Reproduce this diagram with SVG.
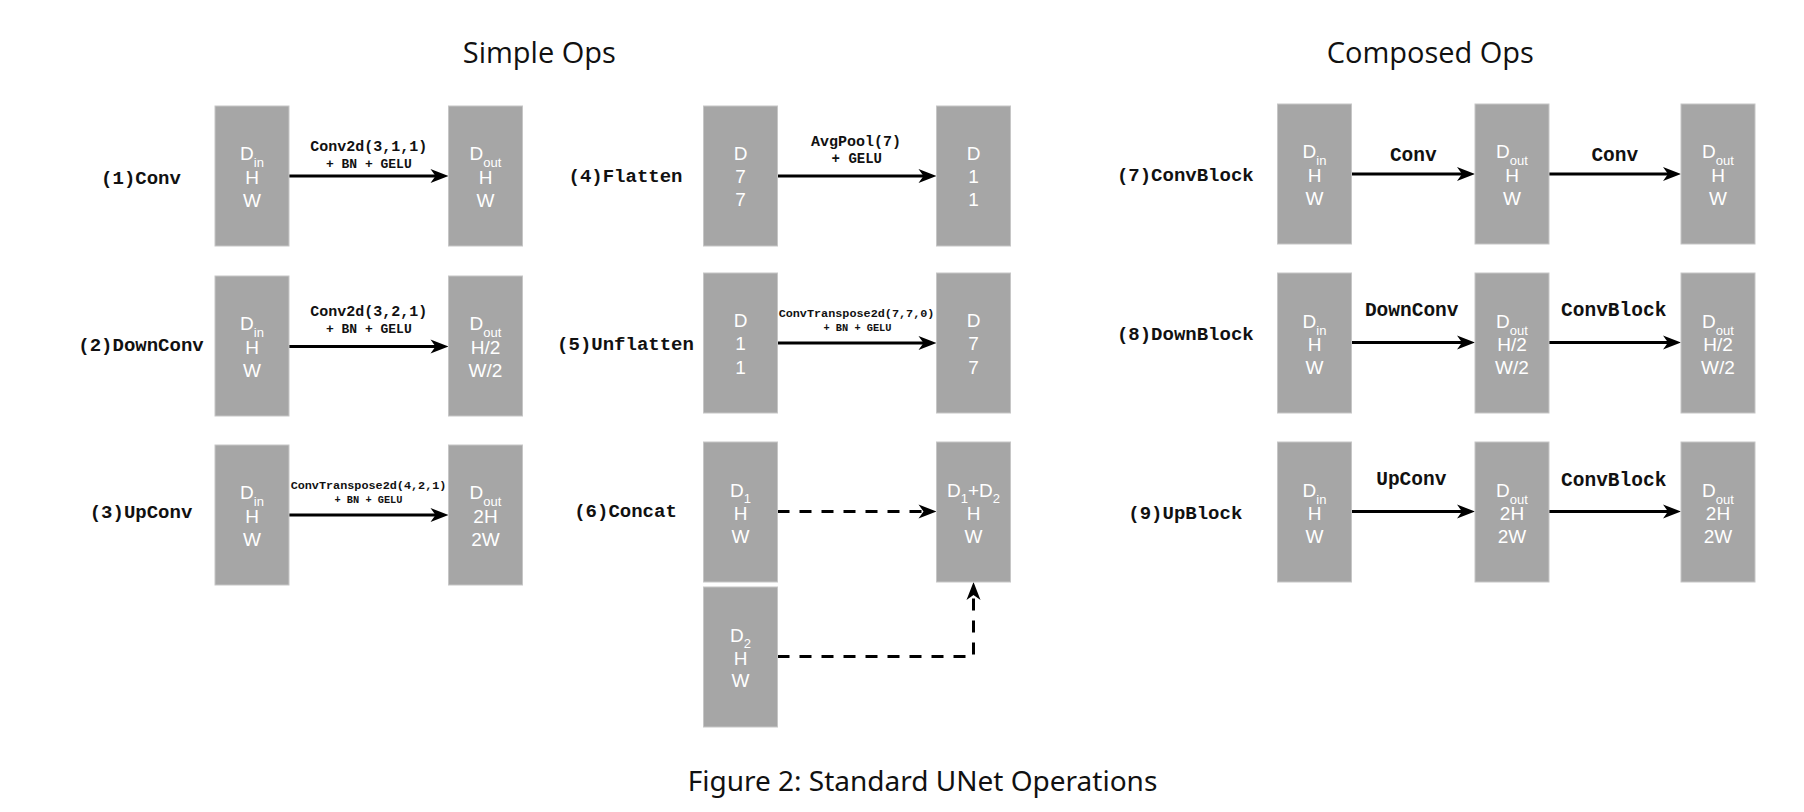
<svg xmlns="http://www.w3.org/2000/svg" width="1804" height="812" viewBox="0 0 1804 812">
<style>
.bg{fill:#ffffff}
.box{fill:#a6a6a6;stroke:#c6c6c6;stroke-width:1}
.bt{font-family:"Liberation Sans",Arial,Helvetica,sans-serif;font-size:19px;fill:#ffffff;text-anchor:middle}
.sub{font-size:13px}
.title{font-family:"Open Sans","Noto Sans",sans-serif;font-size:29px;fill:#111111;text-anchor:middle}
.cap{font-family:"Noto Sans","Liberation Sans",sans-serif;font-size:28px;fill:#111111;text-anchor:middle}
.lbl{font-family:"Liberation Mono","Courier New",monospace;font-weight:bold;font-size:19px;fill:#111111;text-anchor:middle}
.al{font-family:"Liberation Mono","Courier New",monospace;font-weight:bold;fill:#111111;text-anchor:middle}
.ln{fill:none;stroke:#000000;stroke-width:3}
.dash{stroke-dasharray:12 10}
</style>
<defs>
<marker id="ah" markerUnits="userSpaceOnUse" markerWidth="20" markerHeight="16" refX="8" refY="7" orient="auto" overflow="visible">
<path d="M0,0 L18,7 L0,14 L5,7 Z" fill="#000000"/>
</marker>
</defs>
<rect class="bg" x="0" y="0" width="1804" height="812"/>

<g id="titles">
<text class="title" x="539.3" y="62.7">Simple Ops</text>
<text class="title" x="1430.3" y="63.3">Composed Ops</text>
</g>

<g id="row-labels">
<text class="lbl" x="141" y="183.5">(1)Conv</text>
<text class="lbl" x="141" y="350.5">(2)DownConv</text>
<text class="lbl" x="141" y="518">(3)UpConv</text>
<text class="lbl" x="625.5" y="181.7">(4)Flatten</text>
<text class="lbl" x="625.5" y="350">(5)Unflatten</text>
<text class="lbl" x="625.5" y="517.3">(6)Concat</text>
<text class="lbl" x="1185.3" y="180.7">(7)ConvBlock</text>
<text class="lbl" x="1185.3" y="340">(8)DownBlock</text>
<text class="lbl" x="1185.3" y="519.3">(9)UpBlock</text>
</g>

<g id="connectors">
<line class="ln" x1="289" y1="176" x2="438.5" y2="176" marker-end="url(#ah)"/>
<line class="ln" x1="289" y1="346.5" x2="438.5" y2="346.5" marker-end="url(#ah)"/>
<line class="ln" x1="289" y1="515" x2="438.5" y2="515" marker-end="url(#ah)"/>
<line class="ln" x1="777.5" y1="176" x2="926.5" y2="176" marker-end="url(#ah)"/>
<line class="ln" x1="777.5" y1="343" x2="926.5" y2="343" marker-end="url(#ah)"/>
<line class="ln dash" x1="777.5" y1="511.5" x2="926.5" y2="511.5" marker-end="url(#ah)"/>
<path class="ln dash" d="M777.5,656.5 H973.5 V592" marker-end="url(#ah)"/>
<line class="ln" x1="1351.5" y1="174" x2="1465" y2="174" marker-end="url(#ah)"/>
<line class="ln" x1="1549" y1="174" x2="1671" y2="174" marker-end="url(#ah)"/>
<line class="ln" x1="1351.5" y1="342.5" x2="1465" y2="342.5" marker-end="url(#ah)"/>
<line class="ln" x1="1549" y1="342.5" x2="1671" y2="342.5" marker-end="url(#ah)"/>
<line class="ln" x1="1351.5" y1="511.5" x2="1465" y2="511.5" marker-end="url(#ah)"/>
<line class="ln" x1="1549" y1="511.5" x2="1671" y2="511.5" marker-end="url(#ah)"/>
</g>

<g id="connector-labels">
<text class="al" x="368.8" y="150.7" font-size="15">Conv2d(3,1,1)</text>
<text class="al" x="368.8" y="168.3" font-size="13">+ BN + GELU</text>
<text class="al" x="368.8" y="315.7" font-size="15">Conv2d(3,2,1)</text>
<text class="al" x="368.8" y="333.3" font-size="13">+ BN + GELU</text>
<text class="al" x="368.5" y="489.3" font-size="11.8">ConvTranspose2d(4,2,1)</text>
<text class="al" x="368.5" y="502.7" font-size="10.3">+ BN + GELU</text>
<text class="al" x="856" y="146" font-size="15">AvgPool(7)</text>
<text class="al" x="856.8" y="163" font-size="14">+ GELU</text>
<text class="al" x="856.5" y="316.7" font-size="11.8">ConvTranspose2d(7,7,0)</text>
<text class="al" x="857.5" y="330.7" font-size="10.3">+ BN + GELU</text>
<text class="al" x="1413.3" y="161" font-size="19.5">Conv</text>
<text class="al" x="1614.8" y="161" font-size="19.5">Conv</text>
<text class="al" x="1411.7" y="315.7" font-size="19.5">DownConv</text>
<text class="al" x="1613.7" y="315.7" font-size="19.5">ConvBlock</text>
<text class="al" x="1411.3" y="485" font-size="19.5">UpConv</text>
<text class="al" x="1613.7" y="486" font-size="19.5">ConvBlock</text>
</g>

<!-- (1) Conv -->
<g id="conv-in">
<rect class="box" x="215" y="106" width="74" height="140"/>
<text class="bt" x="252" y="160"><tspan>D</tspan><tspan class="sub" dy="7">in</tspan></text>
<text class="bt" x="252" y="183.5">H</text>
<text class="bt" x="252" y="206.5">W</text>
</g>
<g id="conv-out">
<rect class="box" x="448.5" y="106" width="74" height="140"/>
<text class="bt" x="485.5" y="160"><tspan>D</tspan><tspan class="sub" dy="7">out</tspan></text>
<text class="bt" x="485.5" y="183.5">H</text>
<text class="bt" x="485.5" y="206.5">W</text>
</g>

<!-- (2) DownConv -->
<g id="downconv-in">
<rect class="box" x="215" y="276" width="74" height="140"/>
<text class="bt" x="252" y="330"><tspan>D</tspan><tspan class="sub" dy="7">in</tspan></text>
<text class="bt" x="252" y="353.5">H</text>
<text class="bt" x="252" y="376.5">W</text>
</g>
<g id="downconv-out">
<rect class="box" x="448.5" y="276" width="74" height="140"/>
<text class="bt" x="485.5" y="330"><tspan>D</tspan><tspan class="sub" dy="7">out</tspan></text>
<text class="bt" x="485.5" y="353.5">H/2</text>
<text class="bt" x="485.5" y="376.5">W/2</text>
</g>

<!-- (3) UpConv -->
<g id="upconv-in">
<rect class="box" x="215" y="445" width="74" height="140"/>
<text class="bt" x="252" y="499"><tspan>D</tspan><tspan class="sub" dy="7">in</tspan></text>
<text class="bt" x="252" y="522.5">H</text>
<text class="bt" x="252" y="545.5">W</text>
</g>
<g id="upconv-out">
<rect class="box" x="448.5" y="445" width="74" height="140"/>
<text class="bt" x="485.5" y="499"><tspan>D</tspan><tspan class="sub" dy="7">out</tspan></text>
<text class="bt" x="485.5" y="522.5">2H</text>
<text class="bt" x="485.5" y="545.5">2W</text>
</g>

<!-- (4) Flatten -->
<g id="flatten-in">
<rect class="box" x="703.5" y="106" width="74" height="140"/>
<text class="bt" x="740.5" y="160">D</text>
<text class="bt" x="740.5" y="183">7</text>
<text class="bt" x="740.5" y="206">7</text>
</g>
<g id="flatten-out">
<rect class="box" x="936.5" y="106" width="74" height="140"/>
<text class="bt" x="973.5" y="160">D</text>
<text class="bt" x="973.5" y="183">1</text>
<text class="bt" x="973.5" y="206">1</text>
</g>

<!-- (5) Unflatten -->
<g id="unflatten-in">
<rect class="box" x="703.5" y="273" width="74" height="140"/>
<text class="bt" x="740.5" y="327">D</text>
<text class="bt" x="740.5" y="350">1</text>
<text class="bt" x="740.5" y="373.5">1</text>
</g>
<g id="unflatten-out">
<rect class="box" x="936.5" y="273" width="74" height="140"/>
<text class="bt" x="973.5" y="327">D</text>
<text class="bt" x="973.5" y="350">7</text>
<text class="bt" x="973.5" y="373.5">7</text>
</g>

<!-- (6) Concat -->
<g id="concat-in1">
<rect class="box" x="703.5" y="442" width="74" height="140"/>
<text class="bt" x="740.5" y="496.5"><tspan>D</tspan><tspan class="sub" dy="6">1</tspan></text>
<text class="bt" x="740.5" y="520">H</text>
<text class="bt" x="740.5" y="542.5">W</text>
</g>
<g id="concat-in2">
<rect class="box" x="703.5" y="587" width="74" height="140"/>
<text class="bt" x="740.5" y="641.5"><tspan>D</tspan><tspan class="sub" dy="6">2</tspan></text>
<text class="bt" x="740.5" y="665">H</text>
<text class="bt" x="740.5" y="687">W</text>
</g>
<g id="concat-out">
<rect class="box" x="936.5" y="442" width="74" height="140"/>
<text class="bt" x="973.5" y="496.5"><tspan>D</tspan><tspan class="sub" dy="6">1</tspan><tspan dy="-6">+D</tspan><tspan class="sub" dy="6">2</tspan></text>
<text class="bt" x="973.5" y="520">H</text>
<text class="bt" x="973.5" y="542.5">W</text>
</g>

<!-- (7) ConvBlock -->
<g id="convblock-in">
<rect class="box" x="1277.5" y="104" width="74" height="140"/>
<text class="bt" x="1314.5" y="158.3"><tspan>D</tspan><tspan class="sub" dy="7">in</tspan></text>
<text class="bt" x="1314.5" y="181.7">H</text>
<text class="bt" x="1314.5" y="204.5">W</text>
</g>
<g id="convblock-mid">
<rect class="box" x="1475" y="104" width="74" height="140"/>
<text class="bt" x="1512" y="158.3"><tspan>D</tspan><tspan class="sub" dy="7">out</tspan></text>
<text class="bt" x="1512" y="181.7">H</text>
<text class="bt" x="1512" y="204.5">W</text>
</g>
<g id="convblock-out">
<rect class="box" x="1681" y="104" width="74" height="140"/>
<text class="bt" x="1718" y="158.3"><tspan>D</tspan><tspan class="sub" dy="7">out</tspan></text>
<text class="bt" x="1718" y="181.7">H</text>
<text class="bt" x="1718" y="204.5">W</text>
</g>

<!-- (8) DownBlock -->
<g id="downblock-in">
<rect class="box" x="1277.5" y="273" width="74" height="140"/>
<text class="bt" x="1314.5" y="327.5"><tspan>D</tspan><tspan class="sub" dy="7">in</tspan></text>
<text class="bt" x="1314.5" y="350.5">H</text>
<text class="bt" x="1314.5" y="373.5">W</text>
</g>
<g id="downblock-mid">
<rect class="box" x="1475" y="273" width="74" height="140"/>
<text class="bt" x="1512" y="327.5"><tspan>D</tspan><tspan class="sub" dy="7">out</tspan></text>
<text class="bt" x="1512" y="350.5">H/2</text>
<text class="bt" x="1512" y="373.5">W/2</text>
</g>
<g id="downblock-out">
<rect class="box" x="1681" y="273" width="74" height="140"/>
<text class="bt" x="1718" y="327.5"><tspan>D</tspan><tspan class="sub" dy="7">out</tspan></text>
<text class="bt" x="1718" y="350.5">H/2</text>
<text class="bt" x="1718" y="373.5">W/2</text>
</g>

<!-- (9) UpBlock -->
<g id="upblock-in">
<rect class="box" x="1277.5" y="442" width="74" height="140"/>
<text class="bt" x="1314.5" y="496.5"><tspan>D</tspan><tspan class="sub" dy="7">in</tspan></text>
<text class="bt" x="1314.5" y="519.5">H</text>
<text class="bt" x="1314.5" y="542.5">W</text>
</g>
<g id="upblock-mid">
<rect class="box" x="1475" y="442" width="74" height="140"/>
<text class="bt" x="1512" y="496.5"><tspan>D</tspan><tspan class="sub" dy="7">out</tspan></text>
<text class="bt" x="1512" y="519.5">2H</text>
<text class="bt" x="1512" y="542.5">2W</text>
</g>
<g id="upblock-out">
<rect class="box" x="1681" y="442" width="74" height="140"/>
<text class="bt" x="1718" y="496.5"><tspan>D</tspan><tspan class="sub" dy="7">out</tspan></text>
<text class="bt" x="1718" y="519.5">2H</text>
<text class="bt" x="1718" y="542.5">2W</text>
</g>

<g id="caption">
<text class="cap" x="922.5" y="791">Figure 2: Standard UNet Operations</text>
</g>
</svg>
